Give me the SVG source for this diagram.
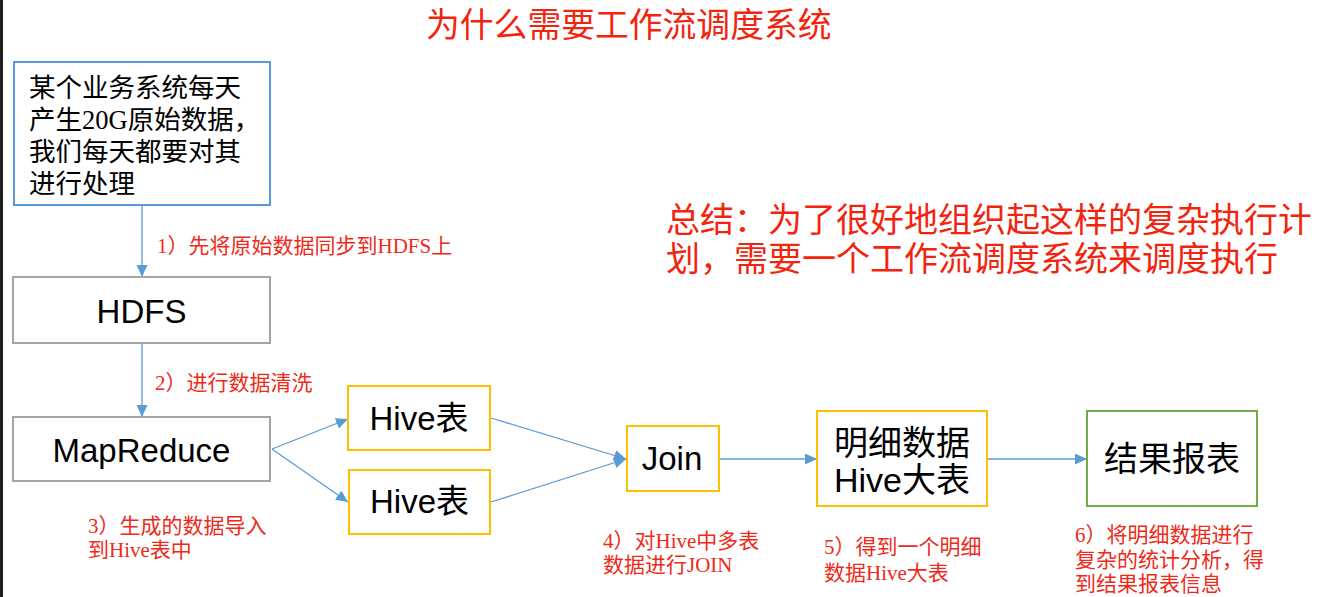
<svg xmlns="http://www.w3.org/2000/svg" width="1328" height="597" viewBox="0 0 1328 597">
<style>
.red{fill:#EE2A1A;font-family:"Liberation Serif","Noto Sans CJK SC",serif;font-size:21px}
.big{fill:#F2240E;font-family:"Noto Sans CJK SC",sans-serif}
.node{fill:#000;font-family:"Liberation Sans","Noto Sans CJK SC",sans-serif;font-size:33px}
.n34{font-size:34px}
.box{fill:#fff;stroke-width:2}
.blue{stroke:#5B9BD5}
.gray{stroke:#A5A5A5}
.yellow{stroke:#FFC000}
.green{stroke:#70AD47}
.conn{stroke:#5B9BD5;stroke-width:1.3;fill:none;marker-end:url(#ah)}
</style>
<defs>
<marker id="ah" markerUnits="userSpaceOnUse" markerWidth="13" markerHeight="12" refX="12" refY="5.5" orient="auto">
<path d="M0,0 L12,5.5 L0,11 Z" fill="#5B9BD5"/>
</marker>
</defs>
<rect x="0" y="0" width="1328" height="597" fill="#fff"/>
<rect x="0" y="0" width="3" height="597" fill="#1e1e1e"/>
<text class="big" x="426" y="37" font-size="33.8">为什么需要工作流调度系统</text>
<text class="big" x="666" y="232" font-size="34">总结：为了很好地组织起这样的复杂执行计</text>
<text class="big" x="666" y="271" font-size="34">划，需要一个工作流调度系统来调度执行</text>
<g id="connectors">
<line class="conn" x1="142" y1="205" x2="142" y2="277"/>
<line class="conn" x1="142" y1="343" x2="142" y2="417"/>
<line class="conn" x1="272" y1="449" x2="348" y2="419"/>
<line class="conn" x1="272" y1="449" x2="348" y2="502"/>
<line class="conn" x1="491" y1="418" x2="626" y2="459"/>
<line class="conn" x1="491" y1="502" x2="626" y2="459"/>
<line class="conn" x1="719" y1="459" x2="817" y2="459"/>
<line class="conn" x1="988" y1="459" x2="1087" y2="459"/>
</g>
<g id="source">
<rect class="box blue" x="14" y="62" width="256" height="143"/>
<g font-family="Liberation Serif,Noto Sans CJK SC,serif" font-size="26.5" fill="#000">
<text x="29" y="96.5" font-family="Noto Sans CJK SC,sans-serif">某个业务系统每天</text>
<text x="29" y="128.5"><tspan font-family="Noto Sans CJK SC,sans-serif">产生</tspan>20G<tspan font-family="Noto Sans CJK SC,sans-serif">原始数据，</tspan></text>
<text x="29" y="161" font-family="Noto Sans CJK SC,sans-serif">我们每天都要对其</text>
<text x="29" y="192.5" font-family="Noto Sans CJK SC,sans-serif">进行处理</text>
</g>
</g>
<g id="hdfs">
<rect class="box gray" x="13" y="277" width="257" height="66"/>
<text class="node" x="141.5" y="323" text-anchor="middle">HDFS</text>
</g>
<g id="mapreduce">
<rect class="box gray" x="13" y="417" width="257" height="64"/>
<text class="node" x="141.5" y="462" text-anchor="middle">MapReduce</text>
</g>
<g id="hive1">
<rect class="box yellow" x="348" y="386" width="142" height="64"/>
<text class="node" x="419" y="430" text-anchor="middle">Hive表</text>
</g>
<g id="hive2">
<rect class="box yellow" x="349" y="470" width="141" height="64"/>
<text class="node" x="419.5" y="513" text-anchor="middle">Hive表</text>
</g>
<g id="join">
<rect class="box yellow" x="627" y="426" width="92" height="65"/>
<text class="node" x="672" y="470" text-anchor="middle">Join</text>
</g>
<g id="detail">
<rect class="box yellow" x="817" y="411" width="170" height="95"/>
<text class="node n34" x="902" y="455" text-anchor="middle">明细数据</text>
<text class="node n34" x="902" y="492" text-anchor="middle">Hive大表</text>
</g>
<g id="report">
<rect class="box green" x="1087" y="411" width="170" height="95"/>
<text class="node n34" x="1172" y="471" text-anchor="middle">结果报表</text>
</g>
<g id="labels">
<text class="red" x="157" y="253">1）先将原始数据同步到HDFS上</text>
<text class="red" x="155" y="390">2）进行数据清洗</text>
<text class="red" x="88" y="533">3）生成的数据导入</text>
<text class="red" x="88" y="557">到Hive表中</text>
<text class="red" x="603" y="548">4）对Hive中多表</text>
<text class="red" x="603" y="572">数据进行JOIN</text>
<text class="red" x="824" y="554">5）得到一个明细</text>
<text class="red" x="824" y="580">数据Hive大表</text>
<text class="red" x="1075" y="542">6）将明细数据进行</text>
<text class="red" x="1075" y="567">复杂的统计分析，得</text>
<text class="red" x="1075" y="591">到结果报表信息</text>
</g>
</svg>
